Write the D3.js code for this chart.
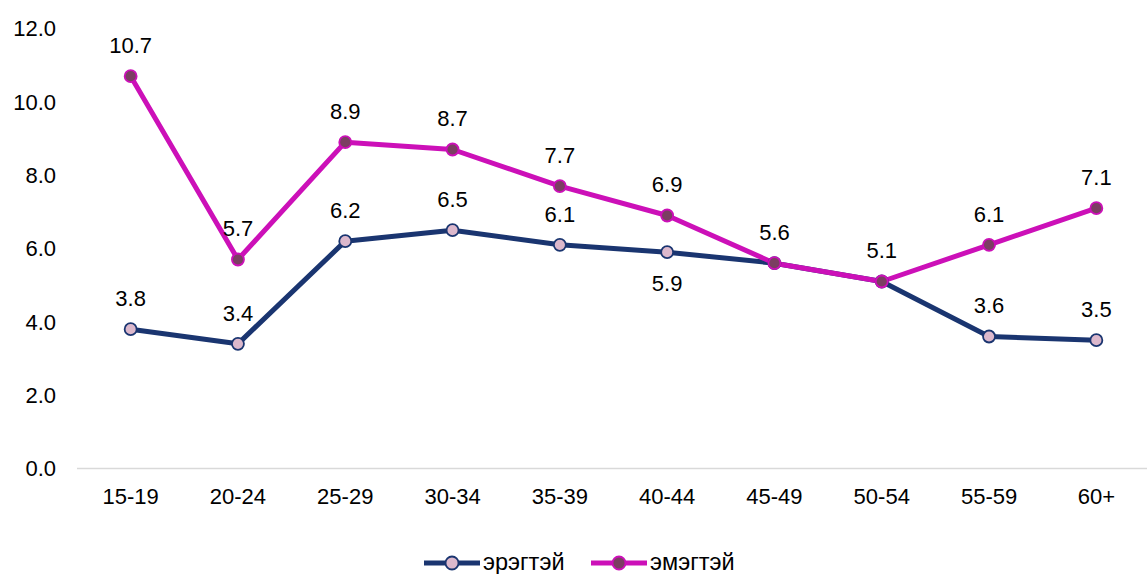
<!DOCTYPE html>
<html><head><meta charset="utf-8">
<script src="https://cdn.jsdelivr.net/npm/d3@7"></script>
<style>body{margin:0;background:#fff}svg{display:block}</style>
</head><body><svg id="c" width="1147" height="574"></svg>
<script>
const categories = ["15-19","20-24","25-29","30-34","35-39","40-44","45-49","50-54","55-59","60+"];
const men = [3.8,3.4,6.2,6.5,6.1,5.9,5.6,5.1,3.6,3.5];
const women = [10.7,5.7,8.9,8.7,7.7,6.9,5.6,5.1,6.1,7.1];
const yTicks = [0,2,4,6,8,10,12];
const seriesNames = ["эрэгтэй","эмэгтэй"];
// label placement: 1 = above, -1 = below, 0 = hidden (overlaps the other series' label)
const menLabelPos = [1,1,1,1,1,-1,1,1,1,1];
const womenLabelPos = [1,1,1,1,1,1,0,0,1,1];

const svg = d3.select("#c");
const font = "'Liberation Sans', Arial, sans-serif";
const fs = 22;
const x = d3.scaleBand().domain(categories).range([77,1150]);
const y = d3.scaleLinear().domain([0,12]).range([468.5,28.5]);
const cx = d => x(d) + x.bandwidth()/2;

// baseline
svg.append("line").attr("x1",77).attr("x2",1147).attr("y1",y(0)).attr("y2",y(0))
  .attr("stroke","#d9d9d9").attr("stroke-width",1.5);

// y axis labels
svg.append("g").selectAll("text").data(yTicks).join("text")
  .attr("x",56).attr("y",d=>y(d)).attr("dy","0.35em").attr("text-anchor","end")
  .attr("font-family",font).attr("font-size",fs).attr("fill","#000")
  .text(d=>d.toFixed(1));

// x axis labels
svg.append("g").selectAll("text").data(categories).join("text")
  .attr("x",d=>cx(d)).attr("y",496).attr("dy","0.35em").attr("text-anchor","middle")
  .attr("font-family",font).attr("font-size",fs).attr("fill","#000")
  .text(d=>d);

const series = [
  {name:seriesNames[0], vals:men, line:"#1a3570", fill:"#dcb8cc", pos:menLabelPos},
  {name:seriesNames[1], vals:women, line:"#cc10b8", fill:"#7b3e62", pos:womenLabelPos}
];
const line = d3.line().x((d,i)=>cx(categories[i])).y(d=>y(d));

series.forEach(s=>{
  svg.append("path").datum(s.vals).attr("d",line).attr("fill","none")
    .attr("stroke",s.line).attr("stroke-width",5).attr("stroke-linejoin","round");
});
series.forEach(s=>{
  svg.append("g").selectAll("circle").data(s.vals).join("circle")
    .attr("cx",(d,i)=>cx(categories[i])).attr("cy",d=>y(d)).attr("r",6)
    .attr("fill",s.fill).attr("stroke",s.line).attr("stroke-width",1.8);
});
series.forEach(s=>{
  svg.append("g").selectAll("text").data(s.vals.map((v,i)=>({v,i,p:s.pos[i]})).filter(d=>d.p!==0)).join("text")
    .attr("x",d=>cx(categories[d.i])).attr("y",d=>y(d.v) - 31*d.p).attr("dy","0.35em")
    .attr("text-anchor","middle").attr("font-family",font).attr("font-size",fs).attr("fill","#000")
    .text(d=>d.v.toFixed(1));
});

// legend
const legX = [424,591];
series.forEach((s,k)=>{
  const g = svg.append("g").attr("transform",`translate(${legX[k]},563)`);
  g.append("line").attr("x1",0).attr("x2",56).attr("y1",0).attr("y2",0)
    .attr("stroke",s.line).attr("stroke-width",5);
  g.append("circle").attr("cx",28).attr("cy",0).attr("r",6.5).attr("fill",s.fill)
    .attr("stroke",s.line).attr("stroke-width",1.8);
  g.append("text").attr("x",59).attr("y",6.5)
    .attr("font-family",font).attr("font-size",23.5).attr("fill","#000").text(s.name);
});
</script></body></html>
